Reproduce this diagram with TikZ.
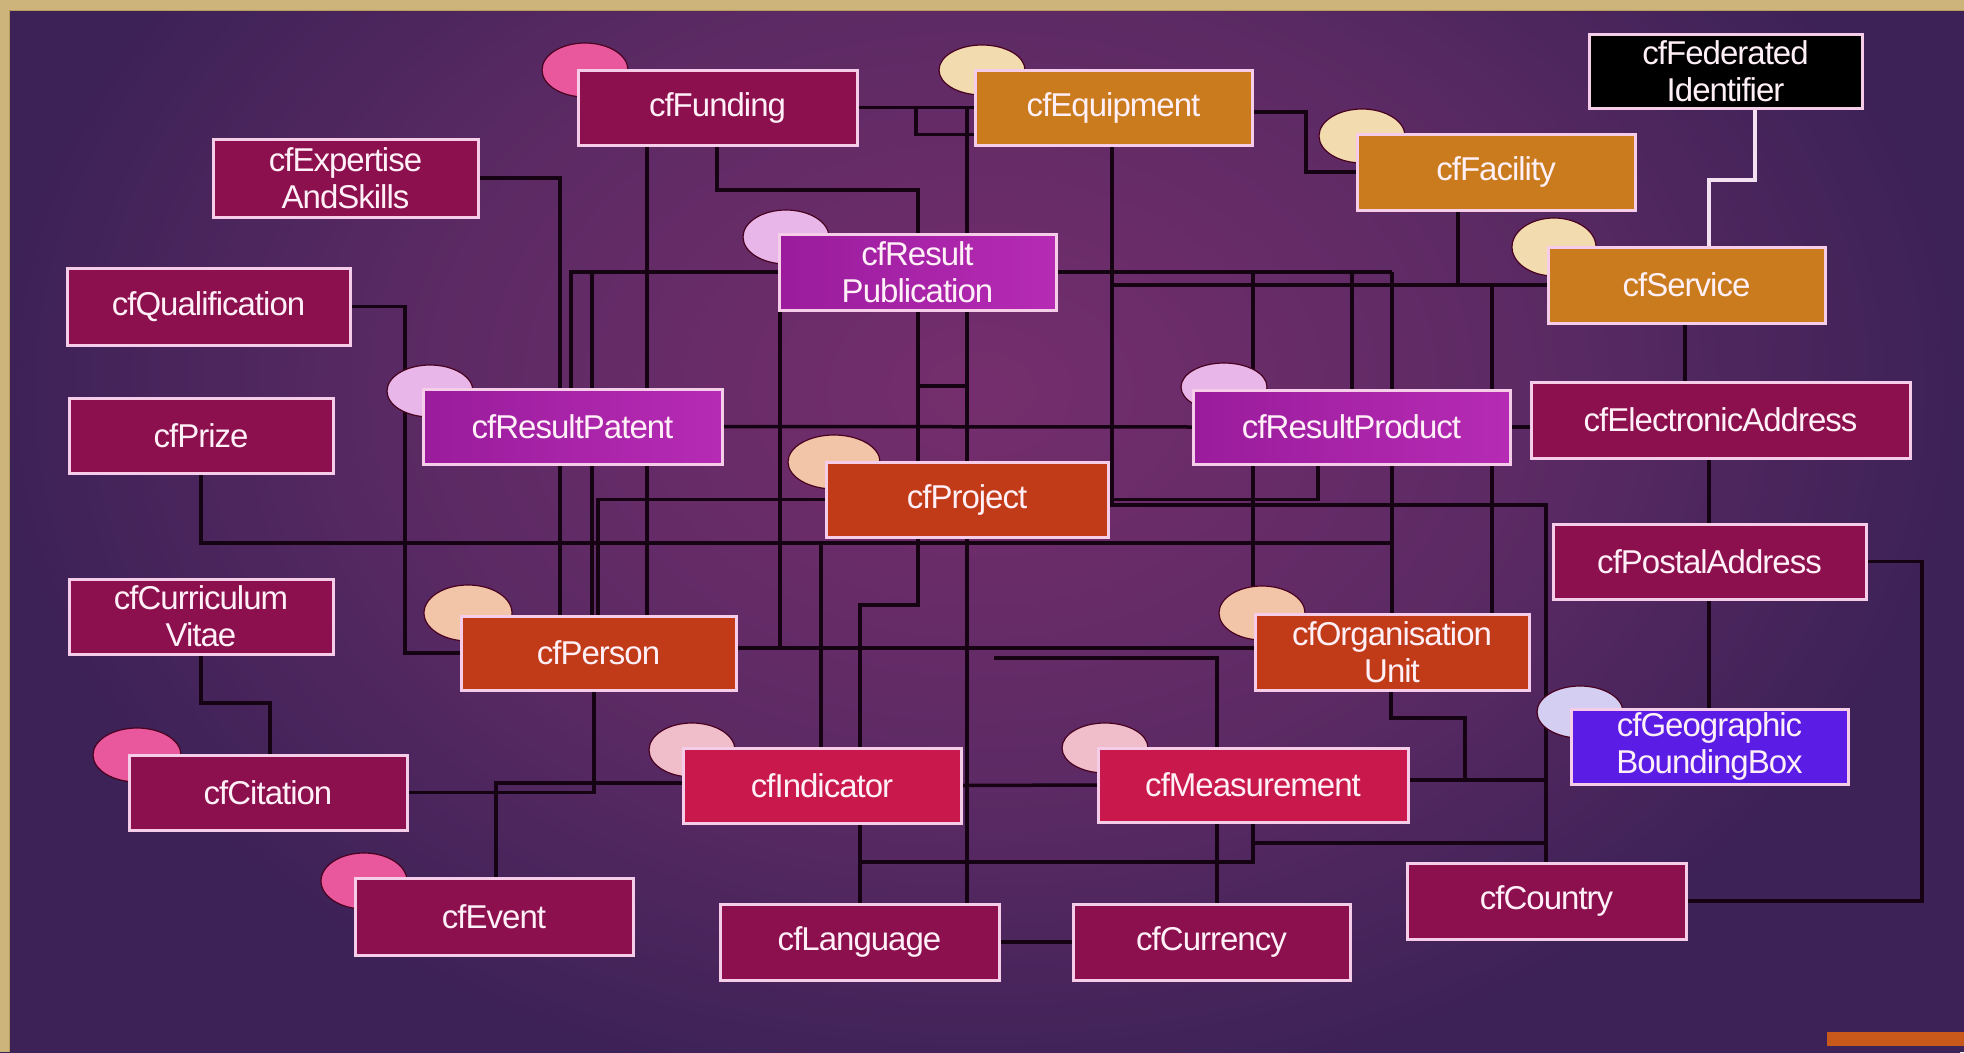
\documentclass[tikz,border=0pt]{standalone}
\usepackage{fontspec}
\setmainfont{Liberation Sans}[LetterSpace=-3]
\usetikzlibrary{calc}
\definecolor{bgC}{HTML}{752E6D}
\definecolor{bgM}{HTML}{5C2A64}
\definecolor{bgE}{HTML}{3D2257}
\definecolor{goldC}{HTML}{CDB47A}
\definecolor{goldD}{HTML}{B89C5E}
\definecolor{dkC}{HTML}{8C0F4E}
\definecolor{orgC}{HTML}{C97B1D}
\definecolor{magL}{HTML}{9A1C9C}
\definecolor{magR}{HTML}{B62BB4}
\definecolor{redC}{HTML}{C23B19}
\definecolor{crimC}{HTML}{C9184B}
\definecolor{bluC}{HTML}{5B1CE6}
\definecolor{boxline}{HTML}{F6CDE9}
\definecolor{txtC}{HTML}{FFF0F8}
\definecolor{lnC}{HTML}{150313}
\definecolor{wlC}{HTML}{F3E0F0}
\definecolor{barC}{HTML}{C8591B}
\definecolor{cPink}{HTML}{E9579C}
\definecolor{cCream}{HTML}{F3DBB0}
\definecolor{cOrch}{HTML}{E8B6E8}
\definecolor{cPeach}{HTML}{F2C4A8}
\definecolor{cLpink}{HTML}{F0BDCB}
\definecolor{cLav}{HTML}{D4CEF2}
\pgfdeclareradialshading{bgrad}{\pgfpoint{0bp}{0bp}}{color(0bp)=(bgC); color(14bp)=(bgM); color(25bp)=(bgE); color(50bp)=(bgE)}
\pgfdeclarelayer{bg}
\pgfdeclarelayer{lines}
\pgfdeclarelayer{circ}
\pgfsetlayers{bg,lines,circ,main}
\tikzset{
  bx/.style={draw=boxline, line width=3pt, text=txtC, align=center, inner sep=0pt, outer sep=0pt,
             anchor=north west, font=\fontsize{33}{37}\selectfont},
  dk/.style={bx, fill=dkC},
  og/.style={bx, fill=orgC},
  mg/.style={bx, left color=magL, right color=magR},
  rd/.style={bx, fill=redC},
  cr/.style={bx, fill=crimC},
  bl/.style={bx, fill=bluC},
  bk/.style={bx, fill=black},
  ln/.style={draw=lnC, line width=3.5pt},
  wl/.style={draw=wlC, line width=4pt},
  blob/.style={draw=lnC!70!purple, line width=1.2pt}
}
\begin{document}
\begin{tikzpicture}[x=1pt,y=-1pt]
\useasboundingbox (0,0) rectangle (1964,1052);
% ---------- nodes ----------
\node[dk, minimum width=279pt, minimum height=75pt] (fund) at (578,70) {cfFunding};
\node[og, minimum width=277pt, minimum height=75pt] (equip) at (975,70) {cfEquipment};
\node[bk, minimum width=273pt, minimum height=74pt] (fedid) at (1589,34) {cfFederated\\Identifier};
\node[dk, minimum width=265pt, minimum height=78pt] (exp) at (213,139) {cfExpertise\\AndSkills};
\node[og, minimum width=278pt, minimum height=76pt] (fac) at (1357,134) {cfFacility};
\node[mg, minimum width=277pt, minimum height=76pt] (pub) at (779,234) {cfResult\\Publication};
\node[og, minimum width=277pt, minimum height=76pt] (serv) at (1548,247) {cfService};
\node[dk, minimum width=283pt, minimum height=77pt] (qual) at (67,268) {cfQualification};
\node[dk, minimum width=264pt, minimum height=75pt] (prize) at (69,398) {cfPrize};
\node[mg, minimum width=299pt, minimum height=75pt] (pat) at (423,389) {cfResultPatent};
\node[mg, minimum width=317pt, minimum height=74pt] (prod) at (1193,390) {cfResultProduct};
\node[dk, minimum width=379pt, minimum height=76pt] (eaddr) at (1531,382) {cfElectronicAddress};
\node[rd, minimum width=282pt, minimum height=75pt] (proj) at (826,462) {cfProject};
\node[dk, minimum width=313pt, minimum height=75pt] (paddr) at (1553,524) {cfPostalAddress};
\node[dk, minimum width=264pt, minimum height=75pt] (cv) at (69,579) {cfCurriculum\\Vitae};
\node[rd, minimum width=275pt, minimum height=74pt] (pers) at (461,616) {cfPerson};
\node[rd, minimum width=274pt, minimum height=76pt] (org) at (1255,614) {cfOrganisation\\Unit};
\node[bl, minimum width=277pt, minimum height=75pt] (geo) at (1571,709) {cfGeographic\\BoundingBox};
\node[dk, minimum width=278pt, minimum height=75pt] (cit) at (129,755) {cfCitation};
\node[cr, minimum width=278pt, minimum height=75pt] (ind) at (683,748) {cfIndicator};
\node[cr, minimum width=310pt, minimum height=74pt] (meas) at (1098,748) {cfMeasurement};
\node[dk, minimum width=278pt, minimum height=77pt] (evt) at (355,878) {cfEvent};
\node[dk, minimum width=279pt, minimum height=76pt] (ctry) at (1407,863) {cfCountry};
\node[dk, minimum width=279pt, minimum height=76pt] (lang) at (720,904) {cfLanguage};
\node[dk, minimum width=277pt, minimum height=76pt] (curr) at (1073,904) {cfCurrency};
% ---------- background ----------
\begin{pgfonlayer}{bg}
\begin{scope}
\clip (0,0) rectangle (1964,1052);
\fill[bgE] (0,0) rectangle (1964,1052);
\shade[shading=bgrad] (0,-320) rectangle (1960,1100);
\fill[goldC] (0,0) rectangle (1964,10);
\fill[goldC] (0,0) rectangle (9,1052);
\draw[goldD, line width=1pt] (9,1052) -- (9,10) -- (1964,10);
\fill[barC] (1827,1032) rectangle (1964,1046);
\end{scope}
\end{pgfonlayer}
% ---------- connectors ----------
\begin{pgfonlayer}{lines}
\draw[ln] (fund.east) -- (equip.west);
\draw[ln] (916,107.5) |- ([yshift=-27pt]equip.west);
\draw[ln] ([xshift=139pt]fund.south west) |- (918,190) -- ([xshift=92pt]proj.north west);
\draw[ln] ([xshift=69pt]fund.south west) -- ([xshift=186pt]pers.north west);
\draw[ln] (967,107.5) -- ([xshift=141pt]proj.north west);
\draw[ln] (918,386) -- (967,386);
\draw[ln] ([xshift=137pt]equip.south west) |- (1546,505) -- ([xshift=139pt]ctry.north west);
\draw[ln] ([yshift=-4.5pt]equip.east) -| (1306,172) -- (fac.west);
\draw[ln] ([xshift=101pt]fac.south west) |- (serv.west);
\draw[ln] (1113,285) -- (1458,285);
\draw[ln] (1492,285) -- ([xshift=237pt]org.north west);
\draw[ln] (pub.east) -- (1392,272);
\draw[ln] (1253,272) -- ([xshift=-2pt]org.north west);
\draw[ln] (1352,272) -- ([xshift=159pt]prod.north west);
\draw[ln] (1392,272) -- ([xshift=137pt]org.north west);
\draw[wl] ([xshift=166pt]fedid.south west) |- (1709,180) -- ([xshift=161pt]serv.north west);
\draw[ln] ([xshift=137pt]serv.south west) -- ([xshift=154pt]eaddr.north west);
\draw[ln] ([xshift=178pt]eaddr.south west) -- ([xshift=156pt]paddr.north west);
\draw[ln] ([xshift=156pt]paddr.south west) -- ([xshift=138pt]geo.north west);
\draw[ln] (paddr.east) -| (1922,901) -- (ctry.east);
\draw[ln] (prod.east) -- (prod.east -| eaddr.west);
\draw[ln] (pat.east) -- (prod.west);
\draw[ln] ([xshift=132pt]prize.south west) |- (1392,543);
\draw[ln] (qual.east) -| (405,653) -- (pers.west);
\draw[ln] (exp.east) -| ([xshift=99pt]pers.north west);
\draw[ln] (pub.west) -| ([xshift=148pt]pat.north west);
\draw[ln] (592,272) -- ([xshift=131pt]pers.north west);
\draw[ln] ([xshift=1pt]pub.south west) -- (780,648);
\draw[ln] ([yshift=5pt]pers.east) -- ([yshift=5pt]pers.east -| org.west);
\draw[ln] (994,658) -| ([xshift=144pt]curr.north west);
\draw[ln] ([xshift=137pt]pers.north west) |- (proj.west);
\draw[ln] (proj.east) -| ([xshift=125pt]prod.south west);
\draw[ln] (821,543) -- ([xshift=138pt]ind.north west);
\draw[ln] ([xshift=92pt]proj.south west) |- (860,605) -- ([xshift=140pt]lang.north west);
\draw[ln] ([xshift=141pt]proj.south west) -- ([xshift=247pt]lang.north west);
\draw[ln] ([xshift=155pt]meas.south west) |- (860,862);
\draw[ln] (1253,843) -- (1546,843);
\draw[ln] (ind.east) -- (meas.west);
\draw[ln] (lang.east) -- (curr.west);
\draw[ln] ([xshift=136pt]org.south west) |- (1465,718) -- (1465,780);
\draw[ln] ([yshift=5pt]meas.east) -- (1546,780);
\draw[ln] ([xshift=132pt]cv.south west) |- (270,703) -- ([xshift=141pt]cit.north west);
\draw[ln] ([xshift=133pt]pers.south west) |- (cit.east);
\draw[ln] ([xshift=141pt]evt.north west) |- ([yshift=2.5pt]ind.west);
\end{pgfonlayer}
% ---------- decorative circles ----------
\begin{pgfonlayer}{circ}
\filldraw[blob, fill=cPink]  ([xshift=7pt]fund.north west)  ellipse [x radius=43pt, y radius=27pt];
\filldraw[blob, fill=cCream] ([xshift=7pt]equip.north west) ellipse [x radius=43pt, y radius=25pt];
\filldraw[blob, fill=cCream] ([xshift=5pt,yshift=-2pt]fac.north west) ellipse [x radius=43pt, y radius=27pt];
\filldraw[blob, fill=cCream] ([xshift=6pt]serv.north west) ellipse [x radius=42pt, y radius=29pt];
\filldraw[blob, fill=cOrch]  ([xshift=7pt,yshift=-3pt]pub.north west) ellipse [x radius=43pt, y radius=27pt];
\filldraw[blob, fill=cOrch]  ([xshift=7pt,yshift=-2pt]pat.north west) ellipse [x radius=43pt, y radius=26pt];
\filldraw[blob, fill=cOrch]  ([xshift=31pt,yshift=3pt]prod.north west) ellipse [x radius=43pt, y radius=24pt];
\filldraw[blob, fill=cPeach] ([xshift=8pt]proj.north west) ellipse [x radius=46pt, y radius=27pt];
\filldraw[blob, fill=cPeach] ([xshift=7pt,yshift=3pt]pers.north west) ellipse [x radius=44pt, y radius=28pt];
\filldraw[blob, fill=cPeach] ([xshift=7pt,yshift=1pt]org.north west) ellipse [x radius=43pt, y radius=27pt];
\filldraw[blob, fill=cLav]   ([xshift=9pt,yshift=-3pt]geo.north west) ellipse [x radius=43pt, y radius=26pt];
\filldraw[blob, fill=cPink]  ([xshift=8pt]cit.north west) ellipse [x radius=44pt, y radius=27pt];
\filldraw[blob, fill=cLpink] ([xshift=9pt,yshift=-2pt]ind.north west) ellipse [x radius=43pt, y radius=27pt];
\filldraw[blob, fill=cLpink] ([xshift=7pt]meas.north west) ellipse [x radius=43pt, y radius=25pt];
\filldraw[blob, fill=cPink]  ([xshift=9pt,yshift=-3pt]evt.north west) ellipse [x radius=43pt, y radius=28pt];
\end{pgfonlayer}
\end{tikzpicture}
\end{document}
